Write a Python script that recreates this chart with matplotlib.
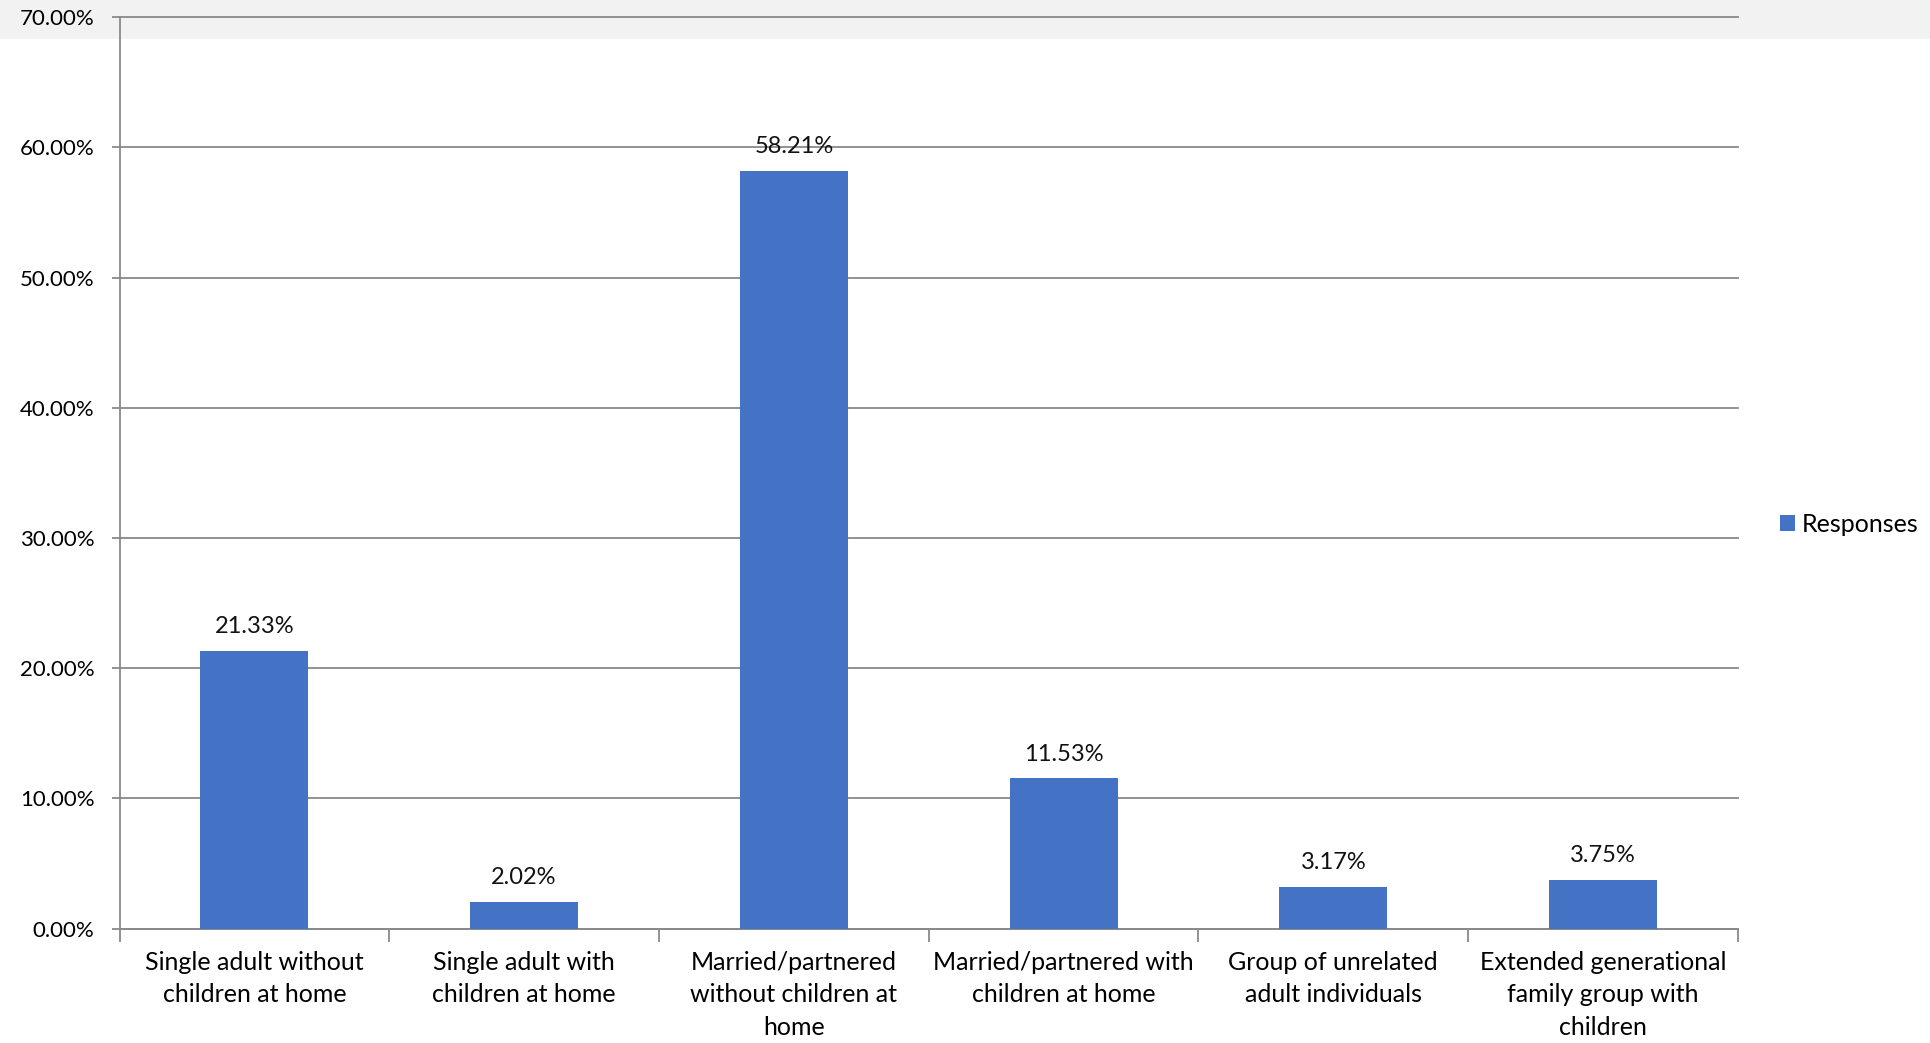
import matplotlib.pyplot as plt
from matplotlib.patches import Rectangle
from matplotlib.ticker import FuncFormatter, MultipleLocator

plt.rcParams['font.family'] = ['Lato', 'DejaVu Sans']

categories = [
    "Single adult without\nchildren at home",
    "Single adult with\nchildren at home",
    "Married/partnered\nwithout children at\nhome",
    "Married/partnered with\nchildren at home",
    "Group of unrelated\nadult individuals",
    "Extended generational\nfamily group with\nchildren",
]
responses = [21.33, 2.02, 58.21, 11.53, 3.17, 3.75]

bar_color = "#4472c4"
grid_color = "#898989"

fig = plt.figure(figsize=(19.31, 10.43), dpi=100)
# light grey strip at the top of the picture, behind the axes
fig.patches.append(Rectangle((0, 1 - 39 / 1043), 1, 39 / 1043, transform=fig.transFigure,
                             facecolor="#f2f2f2", edgecolor="none", zorder=-5))

ax = fig.add_axes([0.0619, 0.1097, 0.8381, 0.8738])
ax.patch.set_alpha(0)

x = list(range(len(categories)))
bars = ax.bar(x, responses, width=0.4, color=bar_color, zorder=3, label="Responses")

for xi, v in zip(x, responses):
    ax.annotate(f"{v:.2f}%", (xi, v), xytext=(0, 10), textcoords="offset points",
                ha="center", va="bottom", fontsize=17, color="#111111")

ax.set_ylim(0, 70)
ax.set_xlim(-0.5, len(categories) - 0.5)
ax.yaxis.set_major_locator(MultipleLocator(10))
ax.yaxis.set_major_formatter(FuncFormatter(lambda v, p: f"{v:.2f}%"))
ax.grid(axis="y", color=grid_color, linewidth=1.3, zorder=0)
for gl in ax.get_ygridlines():
    gl.set_clip_on(False)

ax.set_xticks(x)
ax.set_xticklabels(categories, fontsize=18, linespacing=1.5)
ax.set_xticks([i + 0.5 for i in range(-1, len(categories))], minor=True)
ax.tick_params(axis="x", which="major", length=0, pad=16)
ax.tick_params(axis="x", which="minor", length=9, color=grid_color, width=1.3)
ax.tick_params(axis="y", length=6, color=grid_color, width=1.3, labelsize=16, pad=12)

for s in ["top", "right"]:
    ax.spines[s].set_visible(False)
for s in ["left", "bottom"]:
    ax.spines[s].set_color(grid_color)
    ax.spines[s].set_linewidth(1.3)

fig.legend(handles=[bars], labels=["Responses"], loc="center left",
           bbox_to_anchor=(1758 / 1931, 1 - 524 / 1043), frameon=False,
           fontsize=18, handlelength=0.6, handleheight=0.6, handletextpad=0.25)

fig.savefig("out.png", dpi=100)
